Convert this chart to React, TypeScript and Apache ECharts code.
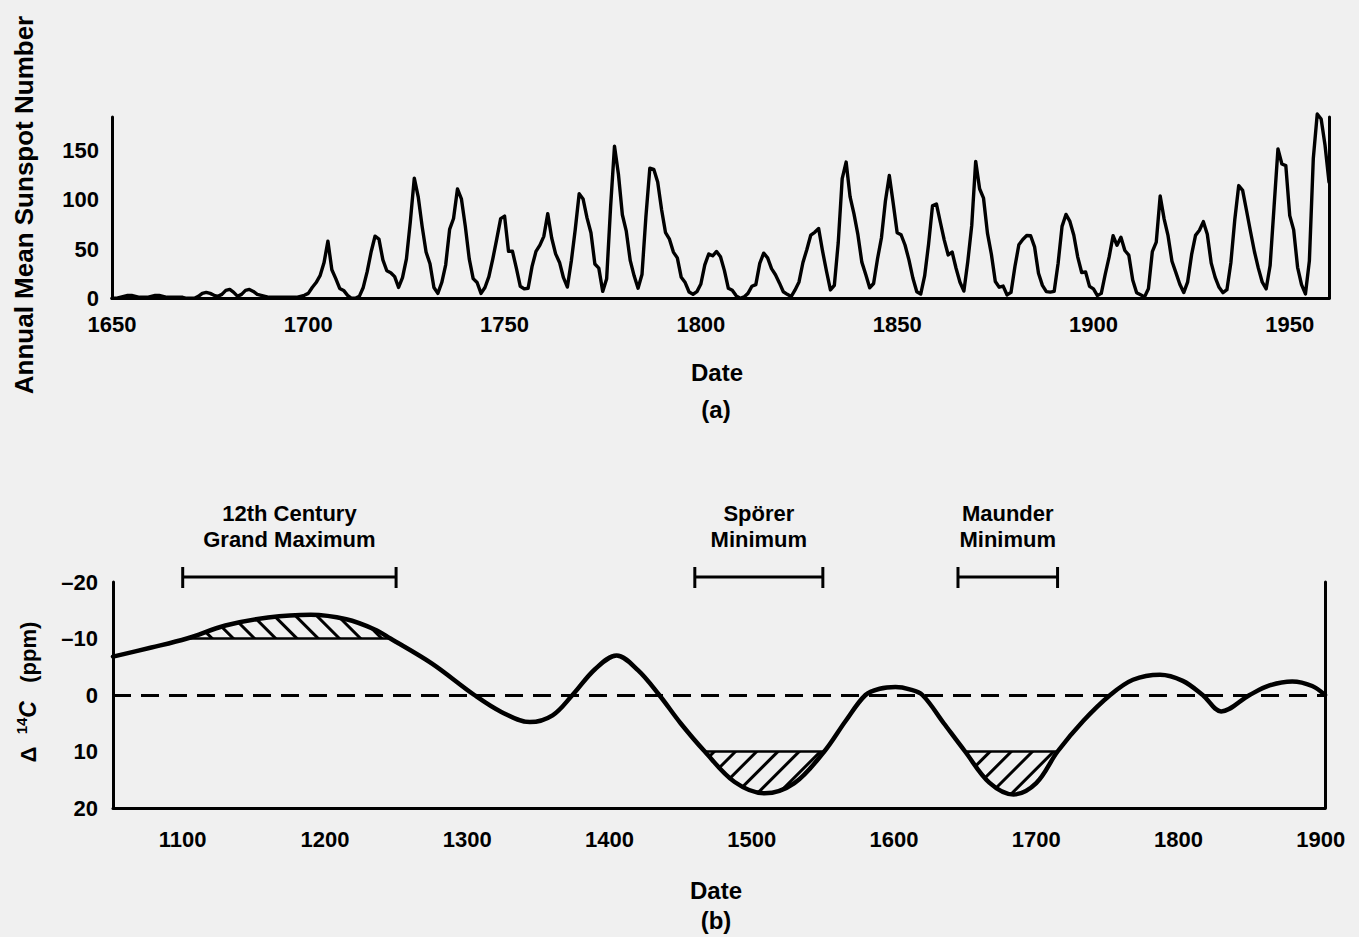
import React, { useEffect, useRef } from "react";
import * as echarts from "echarts";

const FONT = '"Liberation Sans", Arial, Helvetica, sans-serif';

// ---------- (a) Annual mean sunspot number ----------
const sunspotFirstYear = 1650;
const sunspotValues = [
  // 1650-1699
  0, 0, 1, 2, 3, 3, 2, 1, 1, 1,
  2, 3, 3, 2, 1, 1, 1, 1, 1, 0,
  0, 0, 2, 5, 6, 5, 3, 2, 4, 8,
  9, 6, 2, 4, 8, 9, 7, 4, 3, 2,
  1, 1, 1, 1, 1, 1, 1, 1, 2, 3,
  // 1700-1749
  5, 11, 16, 23, 36, 58, 29, 20, 10, 8,
  3, 0, 0, 2, 11, 27, 47, 63, 60, 39,
  28, 26, 22, 11, 21, 40, 78, 122, 103, 73,
  47, 35, 11, 5, 16, 34, 70, 81, 111, 101,
  73, 40, 20, 16, 5, 11, 22, 40, 60, 80.9,
  // 1750-1799
  83.4, 47.7, 47.8, 30.7, 12.2, 9.6, 10.2, 32.4, 47.6, 54.0,
  62.9, 85.9, 61.2, 45.1, 36.4, 20.9, 11.4, 37.8, 69.8, 106.1,
  100.8, 81.6, 66.5, 34.8, 30.6, 7.0, 19.8, 92.5, 154.4, 125.9,
  84.8, 68.1, 38.5, 22.8, 10.2, 24.1, 82.9, 132.0, 130.9, 118.1,
  89.9, 66.6, 60.0, 46.9, 41.0, 21.3, 16.0, 6.4, 4.1, 6.8,
  // 1800-1849
  14.5, 34.0, 45.0, 43.1, 47.5, 42.2, 28.1, 10.1, 8.1, 2.5,
  0.0, 1.4, 5.0, 12.2, 13.9, 35.4, 45.8, 41.1, 30.1, 23.9,
  15.6, 6.6, 4.0, 1.8, 8.5, 16.6, 36.3, 49.6, 64.2, 67.0,
  70.9, 47.8, 27.5, 8.5, 13.2, 56.9, 121.5, 138.3, 103.2, 85.7,
  64.6, 36.7, 24.2, 10.7, 15.0, 40.1, 61.5, 98.5, 124.7, 96.3,
  // 1850-1899
  66.6, 64.5, 54.1, 39.0, 20.6, 6.7, 4.3, 22.7, 54.8, 93.8,
  95.8, 77.2, 59.1, 44.0, 47.0, 30.5, 16.3, 7.3, 37.6, 74.0,
  139.0, 111.2, 101.6, 66.2, 44.7, 17.0, 11.3, 12.4, 3.4, 6.0,
  32.3, 54.3, 59.7, 63.7, 63.5, 52.2, 25.4, 13.1, 6.8, 6.3,
  7.1, 35.6, 73.0, 85.1, 78.0, 64.0, 41.8, 26.2, 26.7, 12.1,
  // 1900-1960
  9.5, 2.7, 5.0, 24.4, 42.0, 63.5, 53.8, 62.0, 48.5, 43.9,
  18.6, 5.7, 3.6, 1.4, 9.6, 47.4, 57.1, 103.9, 80.6, 63.6,
  37.6, 26.1, 14.2, 5.8, 16.7, 44.3, 63.9, 69.0, 77.8, 64.9,
  35.7, 21.2, 11.1, 5.7, 8.7, 36.1, 79.7, 114.4, 109.6, 88.8,
  67.8, 47.5, 30.6, 16.3, 9.6, 33.2, 92.6, 151.6, 136.3, 134.7,
  83.9, 69.4, 31.5, 13.9, 4.4, 38.0, 141.7, 187, 182, 155, 118,
];
const sunspotXTicks = [1650, 1700, 1750, 1800, 1850, 1900, 1950];
const sunspotYTicks = [0, 50, 100, 150];

// ---------- (b) Delta 14C (ppm) ----------
const c14Years = [
  1051, 1078, 1103, 1130, 1160, 1190, 1215, 1235, 1246, 1275,
  1305, 1324, 1344, 1360, 1374, 1390, 1405, 1420, 1435, 1450,
  1467, 1488, 1509, 1530, 1551, 1566, 1580, 1590, 1601, 1611,
  1620, 1635, 1650, 1667, 1684, 1700, 1715, 1733, 1752, 1768,
  1787, 1803, 1817, 1830, 1850, 1864, 1880, 1894, 1903,
];
const c14Values = [
  -6.8, -8.4, -10, -12.3, -13.7, -14.2, -13.4, -11.6, -10, -5.6,
  0, 3.0, 4.8, 3.6, 0, -4.6, -7.0, -4.4, 0, 5.0,
  10, 15.4, 17.4, 15.6, 10, 4.6, 0, -1.1, -1.4, -1.0,
  0, 5.0, 10, 15.5, 17.6, 15.6, 10, 4.6, 0, -2.7,
  -3.6, -2.5, 0, 2.9, 0, -1.7, -2.4, -1.6, 0,
];
const c14XTicks = [1100, 1200, 1300, 1400, 1500, 1600, 1700, 1800, 1900];
const c14YTicks = [-20, -10, 0, 10, 20];

// Named episodes (date ranges)
const episodeLabels = ["12th Century\nGrand Maximum", "Spörer\nMinimum", "Maunder\nMinimum"];
const episodeStart = [1100, 1460, 1645];
const episodeEnd = [1250, 1550, 1715];

// Hatched excursions beyond +/-10 ppm
const hatchStart = [1103, 1467, 1650];
const hatchEnd = [1246, 1551, 1715];
const hatchLevel = [-10, 10, 10];

const CURVE_SMOOTH = 0.35;

export default function App() {
  const ref = useRef<HTMLDivElement>(null);

  useEffect(() => {
    if (!ref.current) return;
    const chart = echarts.init(ref.current, null, { renderer: "svg" });

    const sunspotData = sunspotValues.map((v, i) => [sunspotFirstYear + i, v]);
    const c14Data = c14Years.map((y, i) => [y, c14Values[i]]);

    const labelStyle = {
      color: "#000",
      fontFamily: FONT,
      fontWeight: "bold" as const,
      fontSize: 22,
    };
    const axisLine = { show: true, onZero: false, lineStyle: { color: "#000", width: 3 } };
    const plain = (v: number) => String(v);

    const hatchSeries = hatchStart.map((s, k) => ({
      type: "line",
      xAxisIndex: 1,
      yAxisIndex: 2,
      smooth: CURVE_SMOOTH,
      showSymbol: false,
      silent: true,
      z: 1,
      data: c14Data.filter((p) => p[0] >= s && p[0] <= hatchEnd[k]),
      lineStyle: { width: 0, opacity: 0 },
      areaStyle: { origin: hatchLevel[k], color: "rgba(0,0,0,0)", opacity: 1 },
      itemStyle: {
        color: "#000",
        decal: {
          symbol: "rect",
          symbolSize: 1,
          color: "#000",
          backgroundColor: "rgba(0,0,0,0)",
          dashArrayX: [1, 0],
          dashArrayY: [2.5, 12],
          rotation: k === 0 ? Math.PI / 4 : -Math.PI / 4,
        },
      },
    }));

    const baseSeries = hatchStart.map((s, k) => ({
      type: "line",
      xAxisIndex: 1,
      yAxisIndex: 2,
      showSymbol: false,
      silent: true,
      z: 2,
      data: [
        [s, hatchLevel[k]],
        [hatchEnd[k], hatchLevel[k]],
      ],
      lineStyle: { color: "#000", width: 2.5 },
    }));

    const option: any = {
      animation: false,
      backgroundColor: "#f0f0f0",
      grid: [
        { left: 112, right: 30, top: 117, height: 181.3, containLabel: false },
        { left: 113, right: 34, top: 582, height: 226, containLabel: false },
      ],
      xAxis: [
        {
          type: "value",
          gridIndex: 0,
          min: 1650,
          max: 1960,
          axisLine,
          axisTick: { show: false },
          splitLine: { show: false },
          axisLabel: { ...labelStyle, margin: 15, customValues: sunspotXTicks, formatter: plain },
        },
        {
          type: "value",
          gridIndex: 1,
          min: 1051,
          max: 1903,
          axisLine,
          axisTick: { show: false },
          splitLine: { show: false },
          axisLabel: { ...labelStyle, margin: 20, customValues: c14XTicks, formatter: plain },
        },
      ],
      yAxis: [
        {
          type: "value",
          gridIndex: 0,
          min: 0,
          max: 184,
          axisLine,
          axisTick: { show: false },
          splitLine: { show: false },
          axisLabel: { ...labelStyle, margin: 13, customValues: sunspotYTicks, formatter: plain },
        },
        {
          type: "value",
          gridIndex: 0,
          position: "right",
          min: 0,
          max: 184,
          axisLine,
          axisTick: { show: false },
          splitLine: { show: false },
          axisLabel: { show: false },
        },
        {
          type: "value",
          gridIndex: 1,
          min: -20,
          max: 20,
          inverse: true,
          axisLine,
          axisTick: { show: false },
          splitLine: { show: false },
          axisLabel: {
            ...labelStyle,
            margin: 15,
            customValues: c14YTicks,
            formatter: (v: number) => (v < 0 ? "\u2013" + Math.abs(v) : String(v)),
          },
        },
        {
          type: "value",
          gridIndex: 1,
          position: "right",
          min: -20,
          max: 20,
          inverse: true,
          axisLine,
          axisTick: { show: false },
          splitLine: { show: false },
          axisLabel: { show: false },
        },
      ],
      series: [
        {
          type: "line",
          xAxisIndex: 0,
          yAxisIndex: 0,
          data: sunspotData,
          showSymbol: false,
          silent: true,
          clip: false,
          lineStyle: { color: "#000", width: 3.4, join: "round", cap: "round" },
        },
        ...hatchSeries,
        ...baseSeries,
        {
          type: "line",
          xAxisIndex: 1,
          yAxisIndex: 2,
          data: c14Data,
          smooth: CURVE_SMOOTH,
          showSymbol: false,
          silent: true,
          z: 3,
          lineStyle: { color: "#000", width: 4.5, join: "round", cap: "round" },
          markLine: {
            silent: true,
            symbol: ["none", "none"],
            label: { show: false },
            lineStyle: { color: "#000", width: 3, type: [18, 10] },
            data: [{ yAxis: 0 }],
          },
        },
        {
          type: "custom",
          xAxisIndex: 1,
          yAxisIndex: 2,
          silent: true,
          clip: false,
          data: episodeStart.map((s, i) => [s, episodeEnd[i]]),
          encode: { x: [0, 1] },
          renderItem: (params: any, api: any) => {
            const a = api.coord([api.value(0), -20]);
            const b = api.coord([api.value(1), -20]);
            const y = a[1] - 5;
            const st = { stroke: "#000", lineWidth: 3 };
            return {
              type: "group",
              children: [
                { type: "line", shape: { x1: a[0], y1: y, x2: b[0], y2: y }, style: st },
                { type: "line", shape: { x1: a[0], y1: y - 10, x2: a[0], y2: y + 11 }, style: st },
                { type: "line", shape: { x1: b[0], y1: y - 10, x2: b[0], y2: y + 11 }, style: st },
                {
                  type: "text",
                  x: (a[0] + b[0]) / 2,
                  y: y - 51,
                  style: {
                    text: episodeLabels[params.dataIndex],
                    fill: "#000",
                    fontSize: 22,
                    fontWeight: "bold",
                    fontFamily: FONT,
                    align: "center",
                    verticalAlign: "middle",
                    lineHeight: 26,
                  },
                },
              ],
            };
          },
        },
      ],
      graphic: [
        {
          type: "text",
          x: 24,
          y: 205,
          rotation: Math.PI / 2,
          style: {
            text: "Annual Mean Sunspot Number",
            fill: "#000",
            fontSize: 26,
            fontWeight: "bold",
            fontFamily: FONT,
            align: "center",
            verticalAlign: "middle",
          },
        },
        {
          type: "text",
          x: 717,
          y: 372,
          style: { text: "Date", fill: "#000", fontSize: 24, fontWeight: "bold", fontFamily: FONT, align: "center", verticalAlign: "middle" },
        },
        {
          type: "text",
          x: 716,
          y: 409,
          style: { text: "(a)", fill: "#000", fontSize: 24, fontWeight: "bold", fontFamily: FONT, align: "center", verticalAlign: "middle" },
        },
        {
          type: "text",
          x: 716,
          y: 890,
          style: { text: "Date", fill: "#000", fontSize: 24, fontWeight: "bold", fontFamily: FONT, align: "center", verticalAlign: "middle" },
        },
        {
          type: "text",
          x: 716,
          y: 920,
          style: { text: "(b)", fill: "#000", fontSize: 24, fontWeight: "bold", fontFamily: FONT, align: "center", verticalAlign: "middle" },
        },
        {
          type: "text",
          x: 28,
          y: 692,
          rotation: Math.PI / 2,
          style: {
            text: "{d|\u0394}  {s|14}{c|C}   {p|(ppm)}",
            fill: "#000",
            fontSize: 22,
            fontWeight: "bold",
            fontFamily: FONT,
            align: "center",
            verticalAlign: "middle",
            rich: {
              d: { fontSize: 22, fontWeight: "bold", fontFamily: FONT, fill: "#000", lineHeight: 28 },
              s: { fontSize: 15, fontWeight: "bold", fontFamily: FONT, fill: "#000", verticalAlign: "top", lineHeight: 28 },
              c: { fontSize: 23, fontWeight: "bold", fontStyle: "italic", fontFamily: FONT, fill: "#000", lineHeight: 28 },
              p: { fontSize: 22, fontWeight: "bold", fontFamily: FONT, fill: "#000", lineHeight: 28 },
            },
          },
        },
      ],
    };

    chart.setOption(option);
    return () => chart.dispose();
  }, []);

  return (
    <div
      ref={ref}
      style={{ position: "absolute", left: 0, top: 0, width: 1359, height: 937 }}
    />
  );
}
